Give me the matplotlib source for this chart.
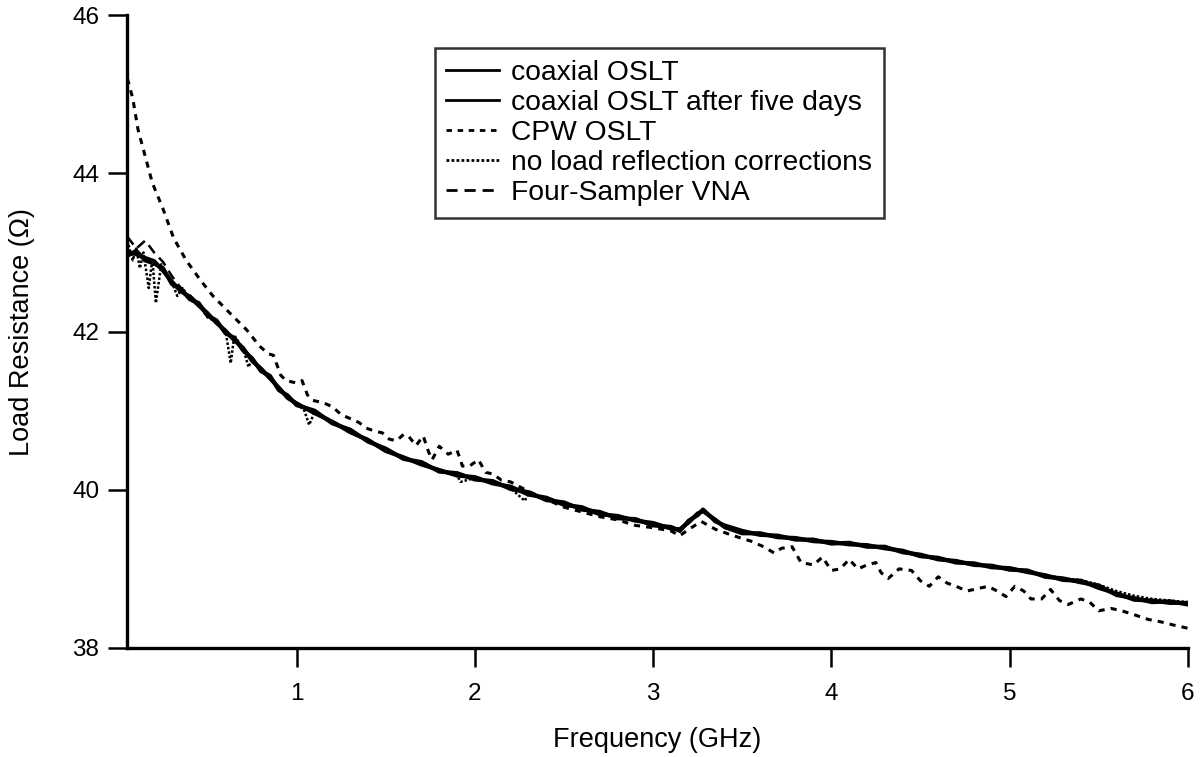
import numpy as np
import matplotlib
matplotlib.use("Agg")
from matplotlib import pyplot as plt

plt.rcParams['font.family'] = ['Liberation Sans', 'DejaVu Sans']

# main (coaxial OSLT) curve
freq_coax = [0.05, 0.1, 0.15, 0.2, 0.25, 0.3, 0.35, 0.4, 0.45, 0.5,
             0.55, 0.6, 0.65, 0.7, 0.75, 0.8, 0.85, 0.9, 0.95, 1.0,
             1.1, 1.2, 1.3, 1.4, 1.5, 1.6, 1.7, 1.8, 1.9, 2.0,
             2.1, 2.2, 2.3, 2.4, 2.5, 2.6, 2.7, 2.8, 2.9, 3.0,
             3.1, 3.15, 3.2, 3.25, 3.28, 3.35, 3.4, 3.5, 3.6, 3.7,
             3.8, 3.9, 4.0, 4.1, 4.2, 4.3, 4.4, 4.5, 4.6, 4.7,
             4.8, 4.9, 5.0, 5.1, 5.2, 5.3, 5.4, 5.5, 5.6, 5.7,
             5.8, 5.9, 6.0]
res_coax = [43.00, 42.98, 42.93, 42.89, 42.77, 42.63, 42.51, 42.44, 42.33, 42.23,
            42.11, 42.01, 41.89, 41.79, 41.63, 41.53, 41.41, 41.29, 41.16, 41.09,
            40.97, 40.86, 40.73, 40.63, 40.49, 40.41, 40.32, 40.25, 40.18, 40.16,
            40.08, 40.04, 39.94, 39.90, 39.81, 39.78, 39.69, 39.67, 39.61, 39.58,
            39.51, 39.50, 39.59, 39.70, 39.73, 39.62, 39.53, 39.45, 39.45, 39.40,
            39.39, 39.35, 39.34, 39.31, 39.30, 39.26, 39.23, 39.16, 39.14, 39.08,
            39.07, 39.02, 39.01, 38.96, 38.92, 38.86, 38.85, 38.76, 38.69, 38.61,
            38.60, 38.57, 38.57]
res_coax_5d = [42.96, 43.02, 42.90, 42.86, 42.80, 42.60, 42.54, 42.41, 42.36, 42.20,
               42.14, 41.98, 41.92, 41.76, 41.66, 41.50, 41.44, 41.26, 41.19, 41.07,
               41.00, 40.84, 40.76, 40.61, 40.52, 40.39, 40.35, 40.23, 40.21, 40.13,
               40.11, 40.01, 39.97, 39.87, 39.84, 39.75, 39.72, 39.64, 39.63, 39.55,
               39.53, 39.48, 39.61, 39.68, 39.75, 39.60, 39.55, 39.48, 39.43, 39.42,
               39.37, 39.37, 39.32, 39.33, 39.28, 39.28, 39.21, 39.18, 39.12, 39.10,
               39.05, 39.04, 38.99, 38.98, 38.90, 38.88, 38.83, 38.79, 38.67, 38.63,
               38.58, 38.59, 38.55]
res_4s = [43.20, 43.05, 43.15, 43.00, 42.88, 42.70, 42.55, 42.46, 42.35, 42.24,
          42.12, 42.02, 41.90, 41.80, 41.64, 41.54, 41.42, 41.30, 41.17, 41.10,
          40.98, 40.87, 40.74, 40.64, 40.50, 40.41, 40.33, 40.25, 40.19, 40.15,
          40.09, 40.03, 39.95, 39.89, 39.82, 39.77, 39.70, 39.66, 39.62, 39.57,
          39.52, 39.50, 39.58, 39.70, 39.73, 39.62, 39.52, 39.46, 39.44, 39.41,
          39.38, 39.36, 39.34, 39.32, 39.29, 39.27, 39.22, 39.17, 39.13, 39.09,
          39.06, 39.03, 39.00, 38.97, 38.91, 38.87, 38.84, 38.77, 38.68, 38.62,
          38.59, 38.58, 38.56]

# no load reflection corrections (spiky near low frequencies)
freq_noload = [0.05, 0.08, 0.1, 0.12, 0.14, 0.17, 0.19, 0.21, 0.24, 0.26,
               0.3, 0.33, 0.36, 0.4, 0.45, 0.5, 0.55, 0.6, 0.63, 0.65,
               0.68, 0.7, 0.73, 0.75, 0.8, 0.85, 0.9, 0.95, 1.0, 1.04,
               1.07, 1.1, 1.2, 1.3, 1.4, 1.5, 1.6, 1.7, 1.8, 1.9,
               1.92, 2.0, 2.1, 2.2, 2.28, 2.3, 2.4, 2.5, 2.6, 2.7,
               2.8, 2.9, 3.0, 3.1, 3.15, 3.2, 3.25, 3.28, 3.35, 3.4,
               3.5, 3.6, 3.7, 3.8, 3.9, 4.0, 4.1, 4.2, 4.3, 4.4,
               4.5, 4.6, 4.7, 4.8, 4.9, 5.0, 5.1, 5.2, 5.3, 5.4,
               5.5, 5.6, 5.7, 5.8, 5.9, 6.0]
res_noload = [43.15, 42.90, 43.05, 42.80, 43.00, 42.55, 42.92, 42.36, 42.85, 42.75,
              42.62, 42.45, 42.55, 42.40, 42.34, 42.18, 42.12, 42.02, 41.60, 41.95,
              41.85, 41.78, 41.55, 41.66, 41.52, 41.40, 41.28, 41.18, 41.08, 41.02,
              40.82, 40.98, 40.86, 40.72, 40.62, 40.50, 40.40, 40.32, 40.24, 40.18,
              40.10, 40.15, 40.09, 40.02, 39.86, 39.95, 39.88, 39.82, 39.76, 39.70,
              39.66, 39.62, 39.57, 39.52, 39.50, 39.58, 39.70, 39.73, 39.62, 39.52,
              39.46, 39.44, 39.41, 39.38, 39.36, 39.34, 39.32, 39.29, 39.27, 39.22,
              39.17, 39.13, 39.09, 39.06, 39.03, 39.00, 38.97, 38.92, 38.88, 38.86,
              38.80, 38.72, 38.66, 38.62, 38.60, 38.58]

# CPW OSLT
freq_cpw = [0.05, 0.08, 0.11, 0.14, 0.19, 0.25, 0.31, 0.38, 0.46, 0.53,
            0.64, 0.72, 0.79, 0.84, 0.87, 0.91, 0.94, 1.0, 1.03, 1.06,
            1.09, 1.15, 1.2, 1.25, 1.3, 1.35, 1.39, 1.44, 1.48, 1.52,
            1.56, 1.6, 1.63, 1.67, 1.71, 1.74, 1.76, 1.8, 1.85, 1.9,
            1.93, 1.97, 2.02, 2.06, 2.1, 2.15, 2.2, 2.3, 2.4, 2.5,
            2.6, 2.7, 2.8, 2.9, 3.0, 3.1, 3.15, 3.2, 3.27, 3.35,
            3.45, 3.55, 3.62, 3.68, 3.72, 3.78, 3.83, 3.9, 3.95, 4.0,
            4.05, 4.1, 4.15, 4.2, 4.25, 4.28, 4.32, 4.38, 4.45, 4.5,
            4.55, 4.6, 4.65, 4.7, 4.76, 4.82, 4.88, 4.93, 4.98, 5.03,
            5.08, 5.12, 5.18, 5.23, 5.28, 5.33, 5.4, 5.45, 5.5, 5.57,
            5.63, 5.7, 5.78, 5.85, 5.92, 6.0]
res_cpw = [45.20, 44.95, 44.55, 44.30, 43.88, 43.55, 43.18, 42.90, 42.65, 42.45,
           42.20, 42.02, 41.82, 41.72, 41.70, 41.45, 41.38, 41.35, 41.38, 41.20,
           41.13, 41.10, 41.05, 40.95, 40.90, 40.85, 40.78, 40.74, 40.72, 40.64,
           40.62, 40.70, 40.67, 40.56, 40.68, 40.48, 40.38, 40.55, 40.45, 40.50,
           40.30, 40.30, 40.38, 40.22, 40.20, 40.12, 40.10, 39.98, 39.88, 39.78,
           39.72, 39.66, 39.62, 39.55, 39.52, 39.48, 39.42, 39.50, 39.60, 39.50,
           39.42, 39.35, 39.28, 39.20, 39.26, 39.28, 39.08, 39.05, 39.15, 38.98,
           39.00, 39.12, 39.00, 39.05, 39.08, 38.95, 38.88, 39.00, 38.98, 38.85,
           38.78, 38.90, 38.82, 38.78, 38.72, 38.75, 38.78, 38.72, 38.65, 38.78,
           38.72, 38.62, 38.62, 38.74, 38.60, 38.55, 38.62, 38.58, 38.47, 38.50,
           38.47, 38.42, 38.36, 38.33, 38.29, 38.25]

fig = plt.figure(figsize=(12.04, 7.57), dpi=100)
ax = fig.add_axes([0.1055, 0.144, 0.881, 0.836])

ax.plot(freq_coax, res_4s, color='k', lw=1.8, ls=(0, (4, 2.5)), label='Four-Sampler VNA', zorder=2)
ax.plot(freq_noload, res_noload, color='k', lw=1.8, ls=(0, (1, 0.8)), label='no load reflection corrections', zorder=2)
ax.plot(freq_cpw, res_cpw, color='k', lw=2.2, ls=(0, (2, 2)), label='CPW OSLT', zorder=2)
ax.plot(freq_coax, res_coax_5d, color='k', lw=3.0, label='coaxial OSLT after five days', zorder=3)
ax.plot(freq_coax, res_coax, color='k', lw=3.0, label='coaxial OSLT', zorder=3)

ax.set_xlim(0.048, 6.0)
ax.set_ylim(38, 46)
ax.set_xticks([1, 2, 3, 4, 5, 6])
ax.set_yticks([38, 40, 42, 44, 46])
for s in ['top', 'right']:
    ax.spines[s].set_visible(False)
for s in ['left', 'bottom']:
    ax.spines[s].set_linewidth(2.4)
ax.tick_params(direction='out', length=14, width=1.8, labelsize=17.5, pad=6)
ax.tick_params(axis='x', pad=11)
ax.set_xlabel('Frequency (GHz)', fontsize=19.5)
ax.set_ylabel('Load Resistance (\u03a9)', fontsize=19.5)
ax.xaxis.set_label_coords(0.5, -0.125)
ax.yaxis.set_label_coords(-0.087, 0.5)

handles, labels = ax.get_legend_handles_labels()
leg = ax.legend(handles[::-1], labels[::-1], loc='upper left', bbox_to_anchor=(0.290, 0.948),
                borderaxespad=0, fontsize=20.3, frameon=True, fancybox=False, edgecolor='k',
                handlelength=1.85, labelspacing=0.14, borderpad=0.42, handletextpad=0.45)
leg.get_frame().set_linewidth(1.8)
for h in leg.get_lines():
    h.set_linewidth(2.0)

fig.savefig('out.png', dpi=100)
